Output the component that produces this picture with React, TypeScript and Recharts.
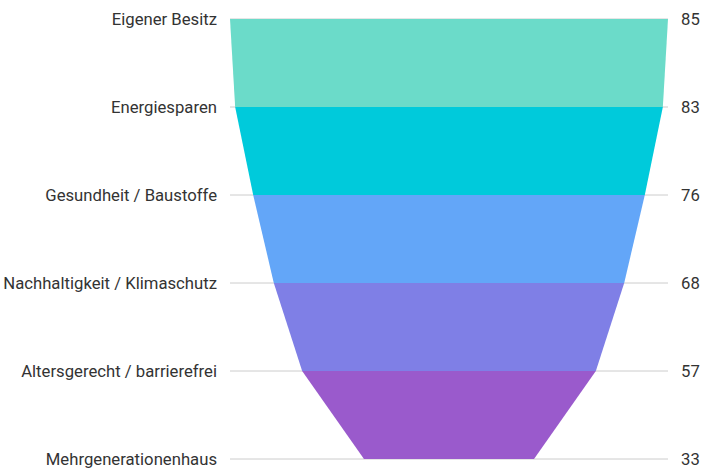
import { ComposedChart, Area, XAxis, YAxis, CartesianGrid } from 'recharts';

const categories = [
  'Eigener Besitz',
  'Energiesparen',
  'Gesundheit / Baustoffe',
  'Nachhaltigkeit / Klimaschutz',
  'Altersgerecht / barrierefrei',
  'Mehrgenerationenhaus',
];
const values = [85, 83, 76, 68, 57, 33];
const segmentColors = ['#6bdbc9', '#00cadb', '#63a6f8', '#7f7fe6', '#9a5acc'];
const rowTicks = [0, 1, 2, 3, 4, 5];

// each funnel segment spans two rows: its own value on top, the next value at the bottom
const chartData = categories.map((name, i) => {
  const row: any = { idx: i, name, value: values[i] };
  segmentColors.forEach((_, s) => {
    row[`seg${s}`] = i === s || i === s + 1 ? [-values[i] / 2, values[i] / 2] : null;
  });
  return row;
});

const maxHalf = Math.max(...values) / 2;
const tickStyle = { fill: '#333', fontSize: 16.7, fontFamily: 'Roboto, sans-serif' };

export default function App() {
  return (
    <div style={{ position: 'absolute', left: 0, top: 0, background: '#fff' }}>
      <ComposedChart
        width={715}
        height={470}
        data={chartData}
        layout="vertical"
        margin={{ top: 19, right: 0, bottom: 11, left: 0 }}
      >
        <CartesianGrid yAxisId="left" horizontal vertical={false} stroke="#cccccc" />
        <XAxis type="number" domain={[-maxHalf, maxHalf]} hide />
        <YAxis
          yAxisId="left"
          type="number"
          dataKey="idx"
          domain={[0, 5]}
          ticks={rowTicks}
          width={230}
          axisLine={false}
          tickLine={false}
          tickSize={6}
          tickMargin={7}
          interval={0}
          tick={tickStyle}
          tickFormatter={(i: number) => categories[i]}
        />
        <YAxis
          yAxisId="right"
          orientation="right"
          type="number"
          dataKey="idx"
          domain={[0, 5]}
          ticks={rowTicks}
          width={47}
          axisLine={false}
          tickLine={false}
          tickSize={6}
          tickMargin={7}
          interval={0}
          tick={tickStyle}
          tickFormatter={(i: number) => String(values[i])}
        />
        {segmentColors.map((c, s) => (
          <Area
            key={s}
            yAxisId="left"
            type="linear"
            dataKey={`seg${s}`}
            fill={c}
            fillOpacity={1}
            stroke="none"
            dot={false}
            activeDot={false}
            isAnimationActive={false}
          />
        ))}
      </ComposedChart>
    </div>
  );
}
